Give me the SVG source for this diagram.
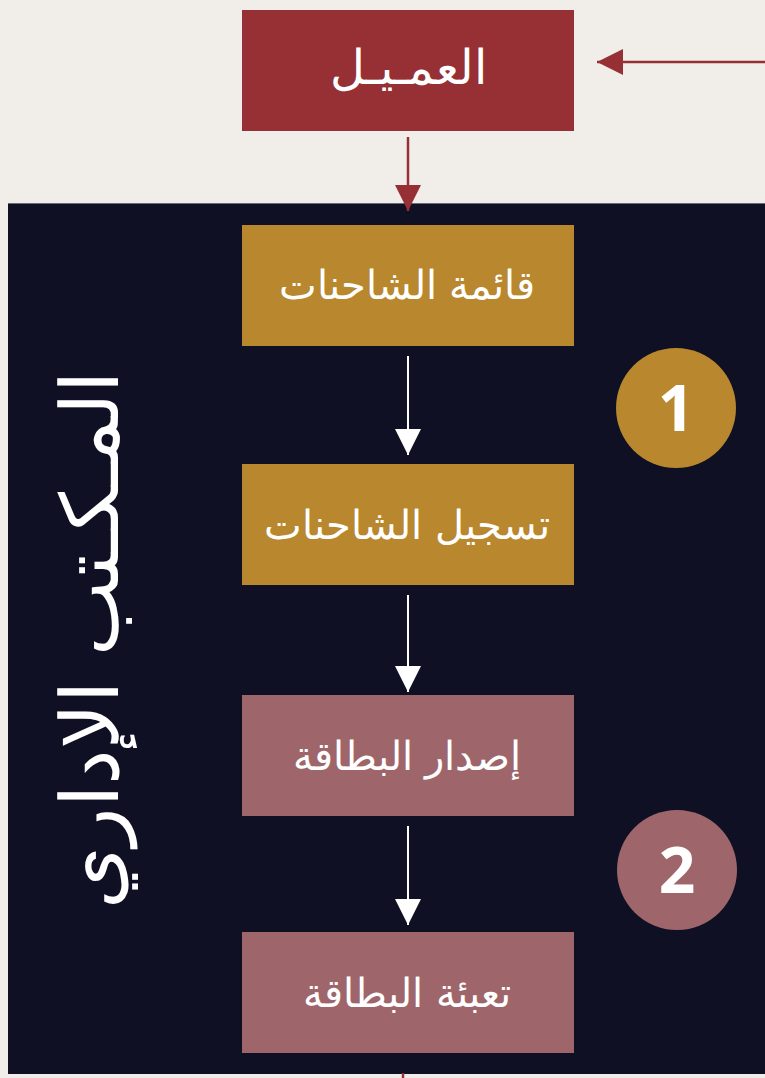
<svg xmlns="http://www.w3.org/2000/svg" width="765" height="1078" viewBox="0 0 765 1078">
<style>
.box{stroke:none}
.lbl{font-family:"DejaVu Sans",sans-serif;font-size:40px;font-weight:300;fill:#ffffff;text-anchor:middle}
.num{font-family:"Open Sans",sans-serif;font-weight:700;font-size:64px;fill:#ffffff;text-anchor:middle}
.wl{stroke:#ffffff;stroke-width:2;fill:none}
.rl{stroke:#963035;stroke-width:2.5;fill:none}
</style>
<defs>
<marker id="aw" viewBox="0 0 10 10" refX="10" refY="5" markerWidth="26" markerHeight="26" markerUnits="userSpaceOnUse" orient="auto"><path d="M0,0 L10,5 L0,10 Z" fill="#ffffff"/></marker>
<marker id="ar" viewBox="0 0 10 10" refX="10" refY="5" markerWidth="26" markerHeight="26" markerUnits="userSpaceOnUse" orient="auto"><path d="M0,0 L10,5 L0,10 Z" fill="#963035"/></marker>
</defs>
<rect x="0" y="0" width="765" height="1078" fill="#f1eee9"/>
<rect x="8" y="203" width="757" height="871" fill="#0f1023"/>
<line x1="8" y1="203.5" x2="765" y2="203.5" stroke="#6a6a72" stroke-width="1"/>
<g id="connectors">
<line class="rl" x1="765" y1="62" x2="597" y2="62" marker-end="url(#ar)"/>
<line class="rl" x1="408" y1="137" x2="408" y2="211" marker-end="url(#ar)"/>
<line class="wl" x1="408" y1="356" x2="408" y2="455" marker-end="url(#aw)"/>
<line class="wl" x1="408" y1="595" x2="408" y2="692" marker-end="url(#aw)"/>
<line class="wl" x1="408" y1="826" x2="408" y2="925" marker-end="url(#aw)"/>
<line class="rl" x1="403" y1="1073" x2="403" y2="1078"/>
</g>
<g id="client"><rect class="box" x="242" y="10" width="332" height="121" fill="#963035"/><text class="lbl" x="408" y="84" style="font-size:48px">العمـيـل</text></g>
<g id="n1"><rect class="box" x="242" y="225" width="332" height="121" fill="#b8872e"/><text class="lbl" x="407" y="299">قائمة الشاحنات</text></g>
<g id="n2"><rect class="box" x="242" y="464" width="332" height="121" fill="#b8872e"/><text class="lbl" x="407" y="539">تسجيل الشاحنات</text></g>
<g id="n3"><rect class="box" x="242" y="695" width="332" height="121" fill="#9e666a"/><text class="lbl" x="407" y="770">إصدار البطاقة</text></g>
<g id="n4"><rect class="box" x="242" y="932" width="332" height="121" fill="#9e666a"/><text class="lbl" x="407" y="1007">تعبئة البطاقة</text></g>
<g id="c1"><circle cx="676" cy="408" r="60" fill="#b8872e"/><text class="num" x="676" y="431">1</text></g>
<g id="c2"><circle cx="677" cy="870" r="60" fill="#9e666a"/><text class="num" x="677" y="893">2</text></g>
<g id="title"><text x="0" y="0" transform="translate(118,640) rotate(-90)" style="font-family:'DejaVu Sans',sans-serif;font-size:80px;font-weight:300;fill:#ffffff;text-anchor:middle">المـكـتب الإداري</text></g>
</svg>
